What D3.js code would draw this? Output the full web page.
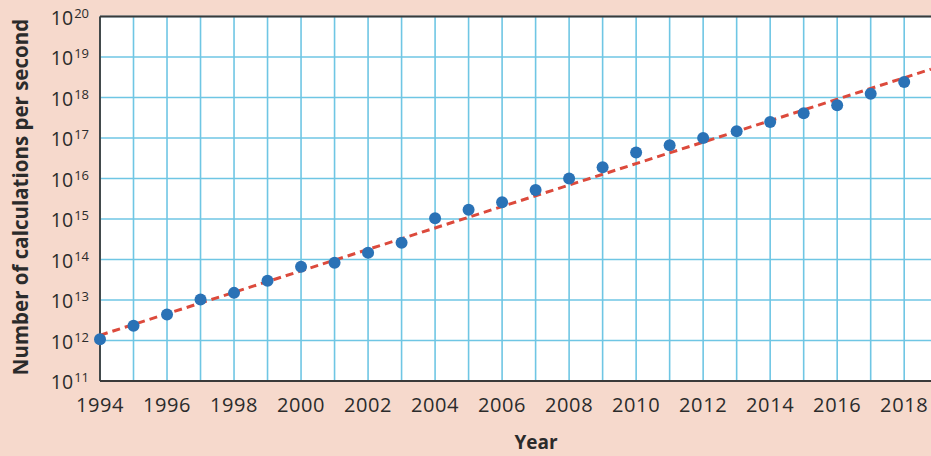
<!DOCTYPE html>
<html>
<head>
<meta charset="utf-8">
<script src="https://cdn.jsdelivr.net/npm/d3@7"></script>
<style>
  html, body { margin: 0; padding: 0; background: #f6d9cc; }
  svg { display: block; }
  text { font-family: "Open Sans", "Noto Sans", sans-serif; fill: #2b2b2b; }
</style>
</head>
<body>
<svg id="chart" width="931" height="456"></svg>
<script>
// Supercomputer performance, calculations per second, by year
const years = d3.range(1994, 2019);
const calcsPerSecond = [
  1.07e12, 2.3e12, 4.4e12, 1.03e13, 1.5e13, 3.0e13, 6.6e13, 8.3e13,
  1.46e14, 2.6e14, 1.05e15, 1.7e15, 2.6e15, 5.2e15, 1.0e16, 1.9e16,
  4.4e16, 6.6e16, 1.0e17, 1.46e17, 2.5e17, 4.1e17, 6.4e17, 1.24e18, 2.4e18
];

// Exponential trend line (straight on the log axis)
const trendYears = [1994, 2018.8];
const trendValues = [1.35e12, 5.0e18];

// Axis ticks
const yTickExponents = d3.range(11, 21);
const xTickLabels = d3.range(1994, 2019, 2);
const gridYears = d3.range(1994, 2019);

const xTitle = "Year";
const yTitle = "Number of calculations per second";

const svg = d3.select("#chart");
const W = 931, H = 456;
const margin = { left: 100, top: 16.5, right: 0, bottom: 75 };
const plotW = W - margin.left - margin.right;
const plotH = H - margin.top - margin.bottom;

const x = d3.scaleLinear().domain([1994, 2018.8]).range([0, plotW]);
const y = d3.scaleLog().domain([1e11, 1e20]).range([plotH, 0]);

const g = svg.append("g").attr("transform", `translate(${margin.left},${margin.top})`);

// Plot background
g.append("rect").attr("width", plotW).attr("height", plotH).attr("fill", "#ffffff");

// Grid
const gridColor = "#6fc6e4";
g.append("g").selectAll("line").data(gridYears).join("line")
  .attr("x1", d => x(d)).attr("x2", d => x(d))
  .attr("y1", 0).attr("y2", plotH)
  .attr("stroke", gridColor).attr("stroke-width", 1.6);
g.append("g").selectAll("line").data(yTickExponents).join("line")
  .attr("x1", 0).attr("x2", plotW)
  .attr("y1", d => y(Math.pow(10, d))).attr("y2", d => y(Math.pow(10, d)))
  .attr("stroke", gridColor).attr("stroke-width", 1.6);

// Frame: left, bottom and top edges
const frame = "#3a3a3a";
g.append("line").attr("x1", 0).attr("x2", plotW).attr("y1", 0).attr("y2", 0)
  .attr("stroke", frame).attr("stroke-width", 1.8);
g.append("line").attr("x1", 0).attr("x2", plotW).attr("y1", plotH).attr("y2", plotH)
  .attr("stroke", frame).attr("stroke-width", 1.8);
g.append("line").attr("x1", 0).attr("x2", 0).attr("y1", 0).attr("y2", plotH)
  .attr("stroke", frame).attr("stroke-width", 1.8);

// Clip for the trend line
svg.append("defs").append("clipPath").attr("id", "plotClip")
  .append("rect").attr("width", plotW).attr("height", plotH);

// Trend line
const trend = trendYears.map((t, i) => ({ t, v: trendValues[i] }));
g.append("path")
  .datum(trend)
  .attr("clip-path", "url(#plotClip)")
  .attr("fill", "none")
  .attr("stroke", "#dc4a3c")
  .attr("stroke-width", 3)
  .attr("stroke-dasharray", "8,5")
  .attr("d", d3.line().x(d => x(d.t)).y(d => y(d.v)));

// Data points
g.append("g").selectAll("circle")
  .data(years.map((yr, i) => ({ yr, v: calcsPerSecond[i] })))
  .join("circle")
  .attr("cx", d => x(d.yr))
  .attr("cy", d => y(d.v))
  .attr("r", 6)
  .attr("fill", "#2a72b6");

// Y tick labels: 10 with superscript exponent
const yLabels = g.append("g").selectAll("text").data(yTickExponents).join("text")
  .attr("x", -11)
  .attr("y", d => y(Math.pow(10, d)) + 8)
  .attr("text-anchor", "end")
  .style("font-size", "19.5px");
yLabels.append("tspan").text("10");
yLabels.append("tspan")
  .attr("dy", -7)
  .attr("dx", 1)
  .style("font-size", "13px")
  .text(d => d);

// X tick labels
g.append("g").selectAll("text").data(xTickLabels).join("text")
  .attr("x", d => x(d))
  .attr("y", plotH + 31)
  .attr("text-anchor", "middle")
  .style("font-size", "20px")
  .style("letter-spacing", "0.6px")
  .text(d => d);

// Axis titles
svg.append("text")
  .attr("x", 536).attr("y", 449)
  .attr("text-anchor", "middle")
  .style("font-size", "19px").style("font-weight", "700")
  .text(xTitle);

svg.append("text")
  .attr("transform", "translate(28,197) rotate(-90)")
  .attr("text-anchor", "middle")
  .style("font-size", "20.5px").style("font-weight", "700")
  .text(yTitle);
</script>
</body>
</html>
